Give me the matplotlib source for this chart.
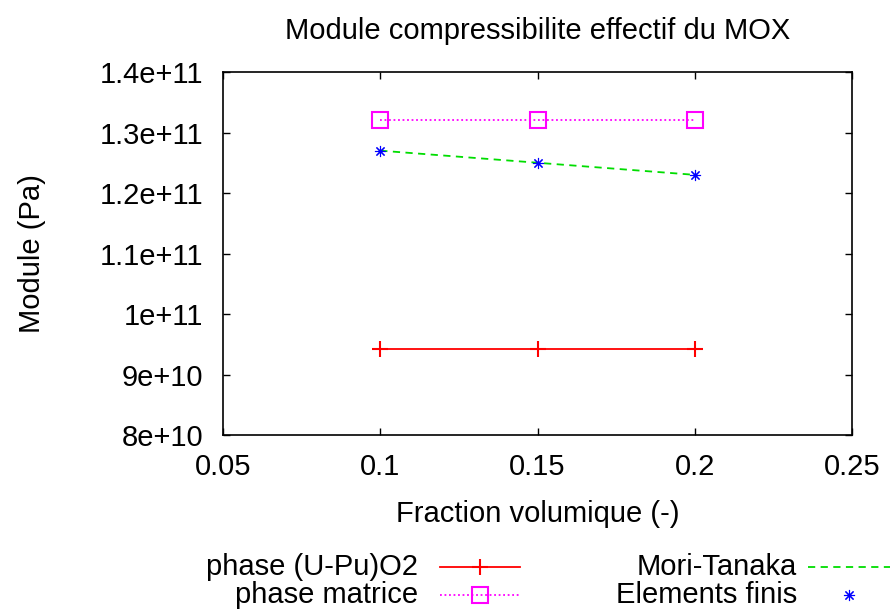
import matplotlib.pyplot as plt
from matplotlib.lines import Line2D

plt.rcParams['font.family'] = ['Liberation Sans', 'DejaVu Sans']

fraction = [0.10, 0.15, 0.20]
phase_upuo2 = [9.42e10, 9.42e10, 9.42e10]
phase_matrice = [1.32e11, 1.32e11, 1.32e11]
mori_tanaka = [1.27e11, 1.25e11, 1.23e11]
elements_finis = [1.27e11, 1.25e11, 1.23e11]

xticks = [0.05, 0.1, 0.15, 0.2, 0.25]
xtick_labels = ['0.05', '0.1', '0.15', '0.2', '0.25']
yticks = [8e10, 9e10, 1e11, 1.1e11, 1.2e11, 1.3e11, 1.4e11]
ytick_labels = ['8e+10', '9e+10', '1e+11', '1.1e+11', '1.2e+11', '1.3e+11', '1.4e+11']

fs = 21
W, H = 893, 609
fig = plt.figure(figsize=(W / 100, H / 100), dpi=100)
ax = fig.add_axes([223 / W, 1 - 435 / H, 629 / W, 363 / H])

red, magenta, green, blue = '#ff0000', '#ff00ff', '#00dd00', '#0000ff'
star = (8, 2, 0)

ax.plot(fraction, phase_upuo2, color=red, lw=1.3, marker='+', ms=12, mew=1.5)
ax.plot(fraction, phase_matrice, color=magenta, lw=1.3, ls=(0, (1, 1.5)),
        marker='s', ms=11, mfc='none', mew=1.5)
ax.plot(fraction, mori_tanaka, color=green, lw=1.3, ls=(0, (4, 3)))
ax.plot(fraction, elements_finis, color=blue, ls='none', marker=star, ms=8, mew=0.8)

ax.set_xlim(0.05, 0.25)
ax.set_ylim(8e10, 1.4e11)
ax.set_xticks(xticks, xtick_labels, fontsize=fs)
ax.set_yticks(yticks, ytick_labels, fontsize=fs)
ax.tick_params(direction='in', length=5, width=1, top=True, right=True, pad=13)
ax.tick_params(axis='y', pad=14)
for s in ax.spines.values():
    s.set_linewidth(1.2)

ax.set_title('Module compressibilite effectif du MOX', fontsize=fs, pad=24)
ax.set_xlabel('Fraction volumique (-)', fontsize=fs, labelpad=14)
ax.set_ylabel('Module (Pa)', fontsize=fs, labelpad=39)

# legend drawn in figure pixel coordinates, gnuplot style (text right, sample after)
entries = [
    ('phase (U-Pu)O2', 418, 440, 520, 567, dict(color=red, lw=1.3, marker='+', ms=12, mew=1.5)),
    ('phase matrice', 418, 440, 520, 595, dict(color=magenta, lw=1.3, ls=(0, (1, 1.5)), marker='s', ms=11, mfc='none', mew=1.5)),
    ('Mori-Tanaka', 797, 808, 890, 567, dict(color=green, lw=1.3, ls=(0, (4, 3)))),
    ('Elements finis', 797, 808, 890, 595, dict(color=blue, ls='none', marker=star, ms=8, mew=0.8)),
]
for label, tx, x0, x1, y, style in entries:
    fig.text(tx / W, 1 - y / H, label, ha='right', va='center', fontsize=fs)
    fig.add_artist(Line2D([x0 / W, (x0 + x1) / 2 / W, x1 / W], [1 - y / H] * 3,
                          transform=fig.transFigure, markevery=[1], **style))

fig.savefig('out.png', dpi=100)
